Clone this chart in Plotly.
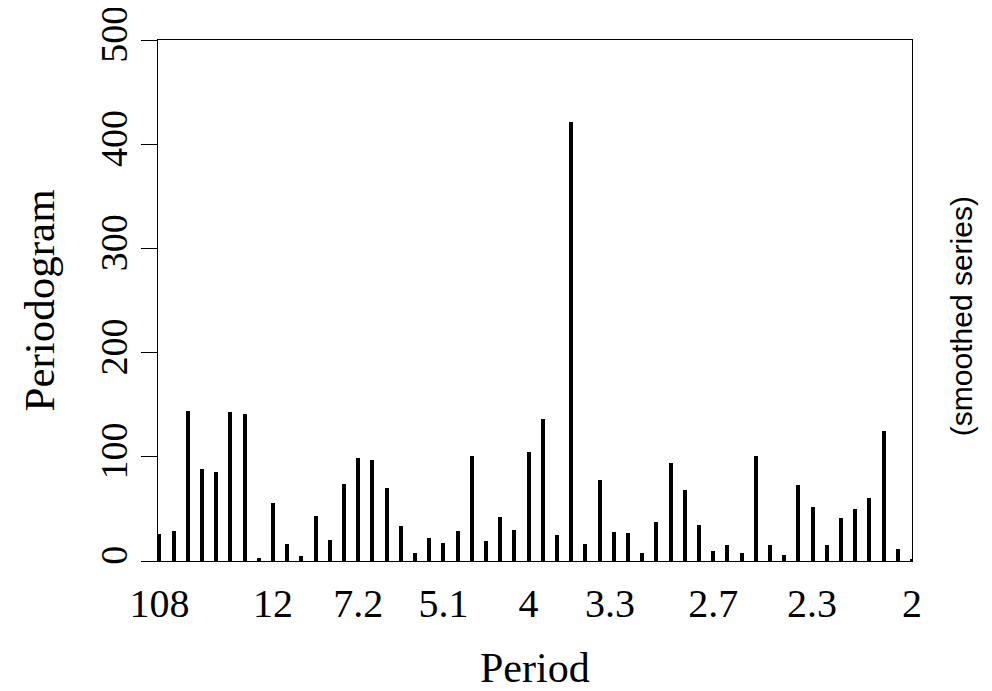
import plotly.graph_objects as go

# Fourier frequency index k (period = N / k), N = 108
N = 108
k_index = list(range(1, 55))
periodogram = [26, 29, 144, 88, 85, 143, 141, 3, 56, 16,
               5, 43, 20, 74, 99, 97, 70, 34, 8, 22,
               17, 29, 101, 19, 42, 30, 105, 136, 25, 421,
               16, 78, 28, 27, 8, 37, 94, 68, 35, 10,
               15, 8, 101, 15, 6, 73, 52, 15, 41, 50,
               60, 125, 12, 2]

period_labels = ["108", "12", "7.2", "5.1", "4", "3.3", "2.7", "2.3", "2"]
period_values = [108, 12, 7.2, 5.14, 4, 3.3, 2.7, 2.3, 2]
tick_positions = [N / p for p in period_values]

y_ticks = [0, 100, 200, 300, 400, 500]

serif = "Liberation Serif"

fig = go.Figure()
fig.add_trace(go.Bar(
    x=k_index, y=periodogram, width=0.28,
    marker=dict(color="black", line=dict(width=0)),
    showlegend=False,
))

fig.update_layout(
    width=984, height=683,
    margin=dict(l=150, r=80, t=32, b=130),
    paper_bgcolor="white", plot_bgcolor="white",
    bargap=0,
    xaxis=dict(
        range=[0.9, 54], tickvals=tick_positions, ticktext=period_labels,
        showgrid=False, zeroline=False, automargin=False,
        showline=True, linecolor="black", linewidth=1.2, mirror=True,
        ticks="", ticklabelstandoff=7, ticklabeloverflow="allow",
        tickfont=dict(family=serif, size=40, color="black"),
    ),
    yaxis=dict(
        range=[0, 500], tickvals=y_ticks,
        showgrid=False, zeroline=False, automargin=False,
        showline=True, linecolor="black", linewidth=1.2, mirror=True,
        ticks="outside", ticklen=16, tickwidth=1.2, tickcolor="black",
        tickangle=-90, ticklabelstandoff=-1, ticklabeloverflow="allow",
        tickfont=dict(family=serif, size=38, color="black"),
    ),
    annotations=[
        dict(text="Period", xref="paper", yref="paper", x=0.5, y=-0.205,
             xanchor="center", yanchor="middle", showarrow=False,
             font=dict(family=serif, size=42, color="black")),
        dict(text="Periodogram", xref="paper", yref="paper", x=-0.1565, y=0.5,
             xanchor="center", yanchor="middle", textangle=-90, showarrow=False,
             font=dict(family=serif, size=43, color="black")),
        dict(text="(smoothed series)", xref="paper", yref="paper",
             x=1.065, y=0.47, xanchor="center", yanchor="middle",
             textangle=-90, showarrow=False,
             font=dict(family="Liberation Sans", size=30, color="black")),
    ],
)

fig.write_html("out.html")
